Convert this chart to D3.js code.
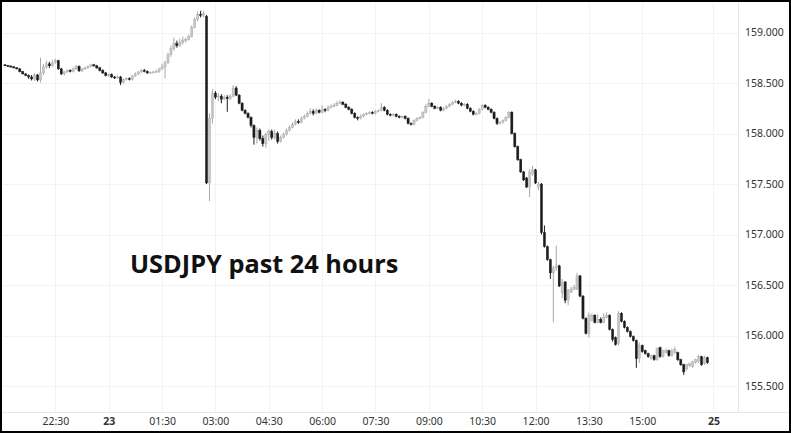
<!DOCTYPE html>
<html><head><meta charset="utf-8">
<script src="https://cdn.jsdelivr.net/npm/d3@7"></script>
<style>html,body{margin:0;padding:0;background:#fff;}svg{display:block;}</style>
</head><body>
<svg id="c" width="791" height="433"></svg>
<script>
// 5-minute USDJPY candles, from 21:05 (day 22) to 16:50 (day 23)
const open = [
158.680,158.672,158.668,158.660,158.650,158.640,158.612,158.590,158.575,158.560,
158.540,158.580,158.530,158.600,158.660,158.690,158.670,158.700,158.720,158.640,
158.590,158.610,158.625,158.615,158.640,158.665,158.620,158.640,158.650,158.665,
158.680,158.670,158.650,158.625,158.600,158.575,158.585,158.560,158.550,158.560,
158.505,158.535,158.545,158.535,158.570,158.590,158.610,158.625,158.615,158.600,
158.605,158.610,158.615,158.640,158.660,158.700,158.780,158.840,158.890,158.870,
158.900,158.920,158.930,158.960,159.050,159.130,159.180,159.170,159.160,157.510,
158.150,158.400,158.360,158.370,158.340,158.360,158.345,158.370,158.450,158.380,
158.300,158.230,158.200,158.160,158.080,157.960,158.030,157.950,157.900,157.990,
158.020,157.960,158.000,157.920,157.960,157.990,158.030,158.060,158.090,158.120,
158.110,158.150,158.170,158.200,158.220,158.200,158.230,158.210,158.240,158.230,
158.260,158.270,158.280,158.300,158.310,158.290,158.260,158.240,158.200,158.160,
158.150,158.170,158.190,158.200,158.210,158.200,158.220,158.230,158.260,158.230,
158.190,158.180,158.190,158.170,158.160,158.170,158.150,158.100,158.090,158.130,
158.150,158.160,158.210,158.270,158.300,158.270,158.250,158.260,158.230,158.250,
158.270,158.290,158.310,158.320,158.300,158.280,158.290,158.250,158.220,158.190,
158.200,158.240,158.280,158.260,158.240,158.210,158.150,158.100,158.110,158.130,
158.160,158.210,158.000,157.870,157.740,157.620,157.560,157.470,157.600,157.640,
157.470,157.500,157.020,156.880,156.750,156.620,156.670,156.690,156.420,156.530,
156.350,156.430,156.460,156.460,156.590,156.390,156.170,156.020,156.150,156.200,
156.130,156.160,156.130,156.180,156.200,156.060,155.980,155.920,156.220,156.140,
156.080,156.040,155.990,155.950,155.770,155.900,155.850,155.820,155.770,155.800,
155.760,155.880,155.790,155.830,155.850,155.800,155.830,155.830,155.760,155.710,
155.670,155.700,155.690,155.730,155.740,155.790,155.720,155.780];
const high = [
158.688,158.680,158.675,158.668,158.658,158.648,158.620,158.598,158.585,158.580,
158.600,158.590,158.750,158.690,158.720,158.710,158.730,158.740,158.730,158.650,
158.620,158.635,158.635,158.655,158.680,158.675,158.650,158.660,158.675,158.690,
158.690,158.680,158.660,158.635,158.610,158.595,158.595,158.570,158.575,158.570,
158.545,158.555,158.555,158.580,158.605,158.620,158.640,158.640,158.625,158.615,
158.620,158.630,158.650,158.690,158.720,158.800,158.870,158.950,158.920,158.940,
158.960,158.950,158.980,159.070,159.150,159.210,159.215,159.210,159.175,158.200,
158.440,158.420,158.400,158.390,158.380,158.380,158.390,158.480,158.470,158.390,
158.310,158.240,158.210,158.170,158.090,158.060,158.050,157.980,158.010,158.040,
158.040,158.040,158.020,157.980,158.010,158.050,158.080,158.110,158.140,158.140,
158.170,158.190,158.220,158.250,158.240,158.250,158.240,158.280,158.250,158.280,
158.290,158.300,158.320,158.330,158.320,158.300,158.270,158.250,158.210,158.170,
158.190,158.200,158.210,158.220,158.220,158.230,158.240,158.300,158.270,158.240,
158.200,158.200,158.200,158.180,158.180,158.180,158.160,158.110,158.140,158.160,
158.170,158.220,158.290,158.340,158.310,158.280,158.270,158.270,158.260,158.280,
158.300,158.320,158.335,158.330,158.310,158.300,158.300,158.260,158.230,158.210,
158.250,158.290,158.290,158.270,158.250,158.220,158.160,158.120,158.140,158.170,
158.220,158.220,158.010,157.880,157.750,157.630,157.570,157.650,157.680,157.650,
157.520,157.510,157.090,156.890,156.760,156.690,156.890,156.700,156.560,156.540,
156.460,156.480,156.500,156.620,156.600,156.400,156.180,156.230,156.220,156.210,
156.210,156.180,156.220,156.230,156.210,156.070,155.990,156.240,156.230,156.150,
156.090,156.050,156.000,155.960,155.930,155.910,155.860,155.830,155.810,155.810,
155.880,155.890,155.860,155.870,155.860,155.870,155.890,155.840,155.770,155.720,
155.720,155.730,155.750,155.770,155.810,155.800,155.800,155.790];
const low = [
158.668,158.662,158.655,158.645,158.635,158.605,158.585,158.568,158.540,158.525,
158.520,158.515,158.505,158.580,158.640,158.650,158.660,158.690,158.630,158.580,
158.575,158.600,158.605,158.605,158.630,158.610,158.610,158.630,158.640,158.655,
158.660,158.640,158.615,158.590,158.565,158.560,158.550,158.540,158.540,158.480,
158.495,158.525,158.525,158.525,158.560,158.580,158.600,158.605,158.590,158.590,
158.595,158.600,158.600,158.630,158.545,158.690,158.760,158.820,158.850,158.860,
158.880,158.900,158.920,158.950,159.040,159.110,159.150,159.150,157.500,157.330,
158.100,158.340,158.320,158.300,158.330,158.215,158.330,158.360,158.370,158.290,
158.220,158.190,158.150,158.060,157.890,157.900,157.930,157.870,157.860,157.930,
157.940,157.940,157.900,157.910,157.950,157.980,158.020,158.050,158.080,158.095,
158.100,158.140,158.160,158.190,158.180,158.190,158.200,158.200,158.210,158.220,
158.250,158.260,158.270,158.290,158.280,158.250,158.230,158.190,158.150,158.130,
158.140,158.160,158.180,158.190,158.190,158.190,158.210,158.220,158.220,158.180,
158.170,158.170,158.160,158.150,158.150,158.140,158.090,158.080,158.080,158.120,
158.140,158.150,158.200,158.260,158.260,158.240,158.240,158.220,158.220,158.240,
158.260,158.280,158.300,158.290,158.270,158.270,158.240,158.210,158.180,158.180,
158.190,158.230,158.250,158.230,158.200,158.140,158.085,158.090,158.100,158.120,
158.150,157.990,157.860,157.730,157.610,157.530,157.460,157.370,157.580,157.500,
157.440,157.000,156.870,156.740,156.560,156.130,156.640,156.480,156.370,156.320,
156.300,156.420,156.450,156.450,156.380,156.160,156.010,155.980,156.140,156.120,
156.120,156.120,156.120,156.170,156.050,155.940,155.900,155.900,156.130,156.070,
156.030,155.980,155.940,155.680,155.730,155.830,155.810,155.780,155.760,155.750,
155.750,155.780,155.780,155.820,155.790,155.790,155.820,155.750,155.700,155.610,
155.650,155.690,155.680,155.720,155.730,155.700,155.710,155.720];
const close = [
158.672,158.668,158.660,158.650,158.640,158.612,158.590,158.575,158.560,158.540,
158.580,158.530,158.600,158.660,158.690,158.670,158.700,158.720,158.640,158.590,
158.610,158.625,158.615,158.640,158.665,158.620,158.640,158.650,158.665,158.680,
158.670,158.650,158.625,158.600,158.575,158.585,158.560,158.550,158.560,158.505,
158.535,158.545,158.535,158.570,158.590,158.610,158.625,158.615,158.600,158.605,
158.610,158.615,158.640,158.660,158.700,158.780,158.840,158.890,158.870,158.900,
158.920,158.930,158.960,159.050,159.130,159.180,159.170,159.190,157.510,158.150,
158.400,158.360,158.370,158.340,158.360,158.345,158.370,158.450,158.380,158.300,
158.230,158.200,158.160,158.080,157.960,158.030,157.950,157.900,157.990,158.020,
157.960,158.000,157.920,157.960,157.990,158.030,158.060,158.090,158.120,158.110,
158.150,158.170,158.200,158.220,158.200,158.230,158.210,158.240,158.230,158.260,
158.270,158.280,158.300,158.310,158.290,158.260,158.240,158.200,158.160,158.150,
158.170,158.190,158.200,158.210,158.200,158.220,158.230,158.260,158.230,158.190,
158.180,158.190,158.170,158.160,158.170,158.150,158.100,158.090,158.130,158.150,
158.160,158.210,158.270,158.300,158.270,158.250,158.260,158.230,158.250,158.270,
158.290,158.310,158.320,158.300,158.280,158.290,158.250,158.220,158.190,158.200,
158.240,158.280,158.260,158.240,158.210,158.150,158.100,158.110,158.130,158.160,
158.210,158.000,157.870,157.740,157.620,157.540,157.470,157.620,157.640,157.510,
157.500,157.020,156.880,156.750,156.620,156.670,156.690,156.490,156.530,156.350,
156.450,156.460,156.480,156.590,156.390,156.170,156.020,156.200,156.200,156.130,
156.160,156.130,156.180,156.200,156.060,155.960,155.910,156.220,156.140,156.080,
156.040,155.990,155.950,155.770,155.900,155.840,155.820,155.790,155.800,155.760,
155.870,155.790,155.850,155.850,155.800,155.840,155.860,155.760,155.710,155.640,
155.710,155.720,155.740,155.760,155.790,155.710,155.780,155.730];

// time axis: candle index of each tick (5-minute steps from 21:05)
const timeTickIndex = [17, 35, 53, 71, 89, 107, 125, 143, 161, 179, 197, 215, 239];
const timeTickLabels = ["22:30", "23", "01:30", "03:00", "04:30", "06:00", "07:30", "09:00", "10:30", "12:00", "13:30", "15:00", "25"];
const boldLabels = ["23", "25"];
const priceTicks = [155.5, 156.0, 156.5, 157.0, 157.5, 158.0, 158.5, 159.0];
const title = "USDJPY past 24 hours";

const W = 791, H = 433;
const plotW = 738, plotH = 412;
const svg = d3.select("#c");

const candles = open.map((o, i) => ({i, o, h: high[i], l: low[i], c: close[i]}));

const x = d3.scaleLinear().domain([-1.673, 247.3]).range([0, plotW]);
const y = d3.scaleLinear().domain([155.2426, 159.322]).range([plotH, 0]);

svg.append("rect").attr("width", W).attr("height", H).attr("fill", "#fff");

// grid
const grid = svg.append("g").attr("shape-rendering", "crispEdges");
grid.selectAll(".hg").data(priceTicks).join("line")
  .attr("x1", 0).attr("x2", plotW)
  .attr("y1", d => Math.round(y(d)) + 0.5).attr("y2", d => Math.round(y(d)) + 0.5)
  .attr("stroke", "#f2f3f6").attr("stroke-width", 1);
grid.selectAll(".vg").data(timeTickIndex).join("line")
  .attr("y1", 0).attr("y2", plotH)
  .attr("x1", d => Math.round(x(d)) + 0.5).attr("x2", d => Math.round(x(d)) + 0.5)
  .attr("stroke", "#f2f3f6").attr("stroke-width", 1);

// axes
const yAxis = d3.axisRight(y).tickValues(priceTicks).tickFormat(d3.format(".3f")).tickSize(0).tickPadding(7);
const gy = svg.append("g").attr("transform", `translate(${plotW},0)`).call(yAxis);
gy.select(".domain").attr("stroke", "#e4e6eb").attr("shape-rendering", "crispEdges");
gy.selectAll("text").attr("font-family", "'Noto Sans', sans-serif").attr("font-size", 10.5).attr("fill", "#333");

const xAxis = d3.axisBottom(x).tickValues(timeTickIndex)
  .tickFormat((d, k) => timeTickLabels[k]).tickSize(0).tickPadding(6);
const gx = svg.append("g").attr("transform", `translate(0,${plotH})`).call(xAxis);
gx.select(".domain").attr("d", `M0,0.5H${W}`).attr("stroke", "#e4e6eb").attr("shape-rendering", "crispEdges");
gx.selectAll("text").attr("font-family", "'Noto Sans', sans-serif").attr("font-size", 10.5).attr("fill", "#333")
  .attr("font-weight", (d, k) => boldLabels.includes(timeTickLabels[k]) ? "bold" : "normal");

// candles
const up = "#c6c6c6", upStroke = "#a9a9a9", dn = "#1c1c1c";
const cg = svg.append("g");
cg.selectAll(".wick").data(candles).join("line")
  .attr("x1", d => x(d.i)).attr("x2", d => x(d.i))
  .attr("y1", d => y(d.h)).attr("y2", d => y(d.l))
  .attr("stroke", d => d.c >= d.o ? upStroke : dn).attr("stroke-width", 1);
cg.selectAll(".body").data(candles).join("rect")
  .attr("x", d => x(d.i) - 1.1).attr("width", 2.2)
  .attr("y", d => y(Math.max(d.o, d.c)))
  .attr("height", d => Math.max(1, Math.abs(y(d.o) - y(d.c))))
  .attr("fill", d => d.c >= d.o ? up : dn)
  .attr("stroke", d => d.c >= d.o ? upStroke : dn).attr("stroke-width", 0.4);

// title
svg.append("text").attr("x", 130).attr("y", 272.5)
  .attr("font-family", "'Open Sans', sans-serif").attr("font-weight", "bold")
  .attr("font-size", 25.3).attr("fill", "#111").text(title);

// frame
svg.append("rect").attr("x", 1).attr("y", 1).attr("width", W - 2).attr("height", H - 2)
  .attr("fill", "none").attr("stroke", "#000").attr("stroke-width", 2);
</script>
</body></html>
